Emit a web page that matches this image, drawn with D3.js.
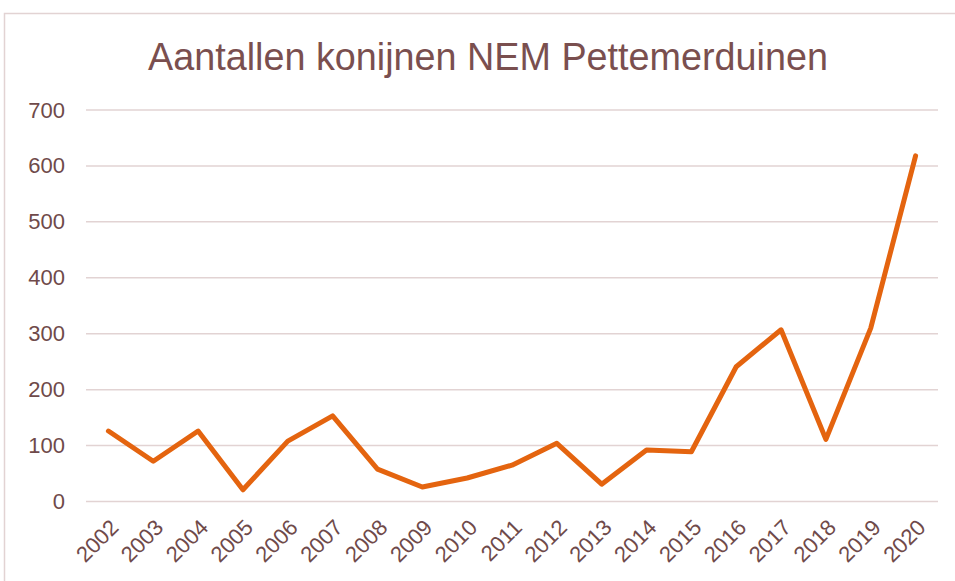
<!DOCTYPE html>
<html>
<head>
<meta charset="utf-8">
<script src="https://cdn.jsdelivr.net/npm/d3@7"></script>
<style>
  body { margin: 0; background: #fff; }
  svg { display: block; font-family: "Liberation Sans", Arial, sans-serif; }
</style>
</head>
<body>
<div id="chart"></div>
<script>
// Chart data
const years = ["2002", "2003", "2004", "2005", "2006", "2007", "2008", "2009", "2010", "2011",
  "2012", "2013", "2014", "2015", "2016", "2017", "2018", "2019", "2020"];
const counts = [126, 72, 126, 21, 108, 153, 58, 26, 42, 65, 104, 31, 92, 89, 241, 307, 111, 310, 618];
const yTicks = [0, 100, 200, 300, 400, 500, 600, 700];

const width = 955, height = 581;
const margin = { top: 110, right: 17, bottom: 79.5, left: 86 };

const svg = d3.select("#chart")
  .append("svg")
  .attr("width", width)
  .attr("height", height);

// outer frame
svg.append("rect")
  .attr("x", 4.5).attr("y", 13.5)
  .attr("width", width).attr("height", height)
  .attr("fill", "none")
  .attr("stroke", "#e2d3d3")
  .attr("stroke-width", 1.5);

// title
svg.append("text")
  .attr("x", 488)
  .attr("y", 70)
  .attr("text-anchor", "middle")
  .attr("font-size", 38)
  .attr("fill", "#7a4f4f")
  .attr("textLength", 680)
  .attr("lengthAdjust", "spacingAndGlyphs")
  .text("Aantallen konijnen NEM Pettemerduinen");

const x = d3.scaleBand()
  .domain(years)
  .range([margin.left, width - margin.right]);

const y = d3.scaleLinear()
  .domain([0, 700])
  .range([height - margin.bottom, margin.top]);

// gridlines
svg.append("g")
  .selectAll("line")
  .data(yTicks)
  .enter()
  .append("line")
  .attr("x1", margin.left)
  .attr("x2", width - margin.right)
  .attr("y1", (d) => y(d))
  .attr("y2", (d) => y(d))
  .attr("stroke", "#e2d3d3")
  .attr("stroke-width", 1.5);

// y axis labels
const yAxis = svg.append("g")
  .attr("transform", `translate(${margin.left - 21},0)`)
  .call(d3.axisLeft(y).tickValues(yTicks).tickSize(0).tickPadding(0));
yAxis.select(".domain").remove();
yAxis.selectAll("text")
  .attr("font-size", 22)
  .attr("font-family", "Liberation Sans, Arial, sans-serif")
  .attr("fill", "#6f4a4a");

// x axis labels
const xAxis = svg.append("g")
  .attr("transform", `translate(0,${height - margin.bottom})`)
  .call(d3.axisBottom(x).tickSize(0).tickPadding(0));
xAxis.select(".domain").remove();
xAxis.selectAll("text")
  .attr("font-size", 22)
  .attr("font-family", "Liberation Sans, Arial, sans-serif")
  .attr("fill", "#6f4a4a")
  .attr("text-anchor", "end")
  .attr("dy", "0.35em")
  .attr("transform", "translate(6,22) rotate(-45)");

// line
const line = d3.line()
  .x((d, i) => x(years[i]) + x.bandwidth() / 2)
  .y((d) => y(d));

svg.append("path")
  .datum(counts)
  .attr("d", line)
  .attr("fill", "none")
  .attr("stroke", "#e4640f")
  .attr("stroke-width", 5)
  .attr("stroke-linejoin", "round")
  .attr("stroke-linecap", "round");
</script>
</body>
</html>
